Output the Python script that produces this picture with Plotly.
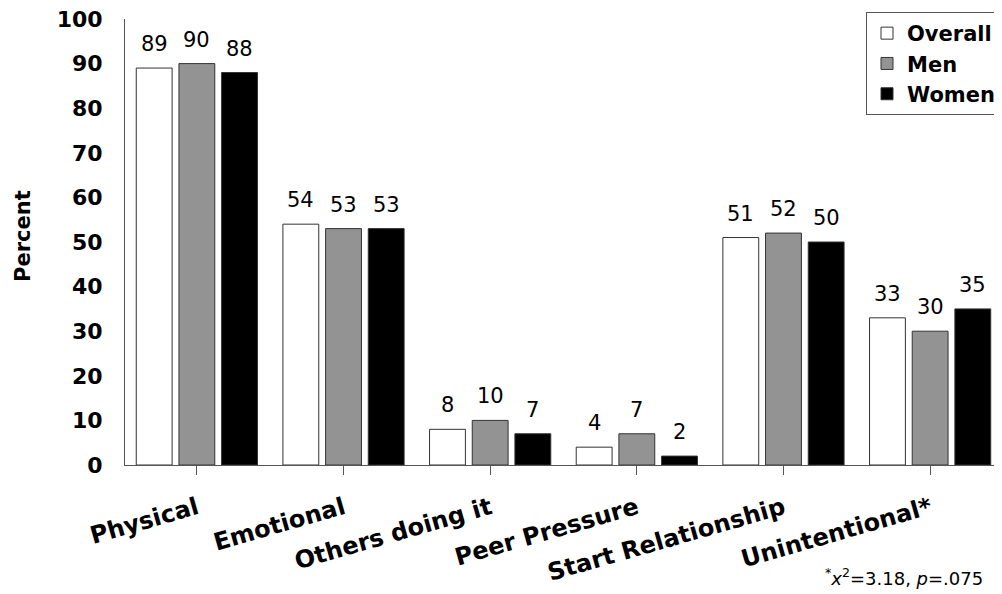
import plotly.graph_objects as go

categories = ["Physical", "Emotional", "Others doing it", "Peer Pressure", "Start Relationship", "Unintentional*"]
overall = [89, 54, 8, 4, 51, 33]
men = [90, 53, 10, 7, 52, 30]
women = [88, 53, 7, 2, 50, 35]
y_ticks = [0, 10, 20, 30, 40, 50, 60, 70, 80, 90, 100]

FONT = "DejaVu Sans, Liberation Sans, Arial, sans-serif"

# page body has an 8px margin; figure is sized to fill the rest of the window
OFF = 8
W, H = 1002 - OFF, 594 - OFF
BARGAP = 0.127

series = [
    ("Overall", overall, "#ffffff"),
    ("Men", men, "#939393"),
    ("Women", women, "#000000"),
]

fig = go.Figure()
annotations = []
slot = (1 - BARGAP) / len(series)
for k, (name, vals, color) in enumerate(series):
    xs = list(range(len(categories)))
    fig.add_trace(go.Bar(
        name=name,
        x=xs,
        y=vals,
        marker=dict(color=color, line=dict(color="#333333", width=1)),
        cliponaxis=False,
    ))
    for i, v in zip(xs, vals):
        annotations.append(dict(
            text=str(v), x=i + (k - 1) * slot, y=v, xref="x", yref="y",
            xanchor="center", yanchor="bottom", yshift=10, showarrow=False,
            font=dict(family=FONT, size=21, color="black"),
        ))

annotations += [
    dict(text="Percent", textangle=-90, xref="paper", yref="paper",
         x=(23 - 125) / 877, y=(465 - 236) / 446, xanchor="center", yanchor="middle",
         showarrow=False, font=dict(family=FONT, size=21, weight="bold")),
    dict(text="<sup>*</sup><i>x</i><sup>2</sup>=3.18, <i>p</i>=.075",
         xref="paper", yref="paper", x=(985 - 125) / 877, y=(465 - 577) / 446,
         xanchor="right", yanchor="middle", showarrow=False,
         font=dict(family=FONT, size=18)),
]

fig.update_layout(
    width=W, height=H,
    margin=dict(l=125 - OFF, r=0, t=19 - OFF, b=594 - 465, autoexpand=False),
    paper_bgcolor="white", plot_bgcolor="white",
    barmode="group", bargap=BARGAP, bargroupgap=0.16,
    font=dict(family=FONT, color="black"),
    legend=dict(
        x=(866 - OFF) / W, y=1 - (12 - OFF) / H, xref="container", yref="container",
        xanchor="left", yanchor="top",
        bordercolor="#555555", borderwidth=1, bgcolor="white",
        font=dict(family=FONT, size=21, weight="bold"),
        itemwidth=30, tracegroupgap=0,
    ),
    xaxis=dict(
        tickmode="array", tickvals=list(range(len(categories))), ticktext=categories,
        range=[-0.49, 5.49], tickangle=-16, automargin=False,
        showline=True, linecolor="#555555", linewidth=1,
        ticks="outside", tickson="boundaries", ticklen=9, tickcolor="#555555",
        ticklabelstandoff=10, ticklabeloverflow="allow",
        tickfont=dict(family=FONT, size=24, weight="bold"),
        showgrid=False, zeroline=False,
    ),
    yaxis=dict(
        range=[0, 100], tickvals=y_ticks, automargin=False,
        showline=True, linecolor="#555555", linewidth=1,
        ticks="", ticklabelstandoff=17, ticklabeloverflow="allow",
        tickfont=dict(family=FONT, size=22, weight="bold"),
        showgrid=False, zeroline=False,
    ),
    annotations=annotations,
)

fig.write_html("out.html")
